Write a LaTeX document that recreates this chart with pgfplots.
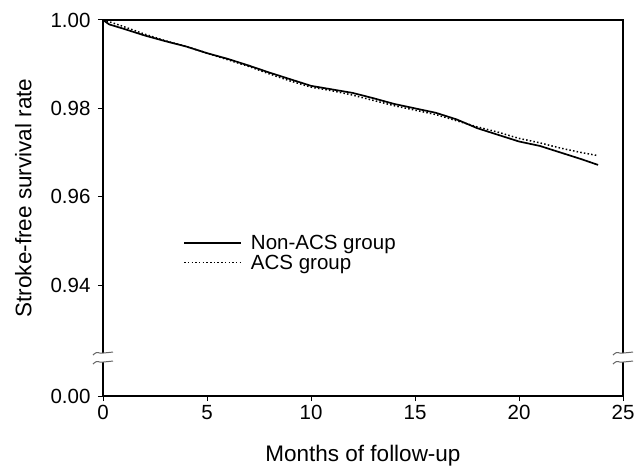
\documentclass[border=0pt]{standalone}
\usepackage{fontspec}
\setmainfont{Liberation Sans}
\usepackage{pgfplots}
\pgfplotsset{compat=1.18}
\begin{document}
\begin{tikzpicture}
\begin{axis}[
  scale only axis,
  width=520pt, height=376pt,
  xmin=0, xmax=25,
  ymin=0.9149, ymax=1.0,
  xtick={0,5,10,15,20,25},
  ytick={0.9149,0.94,0.96,0.98,1.00},
  yticklabels={0.00,0.94,0.96,0.98,1.00},
  /pgf/number format/assume math mode=true,
  tick align=outside,
  tick pos=left,
  major tick length=5pt,
  axis line style={line width=1.4pt},
  every tick/.style={black, line width=1pt},
  tick label style={font=\fontsize{20.5}{24}\selectfont},
  xticklabel style={yshift=-1pt},
  yticklabel style={xshift=-4pt},
  label style={font=\fontsize{22.5}{26}\selectfont},
  xlabel={Months of follow-up},
  ylabel={Stroke-free survival rate},
  xlabel style={yshift=-18pt},
  ylabel style={yshift=12pt, xshift=10pt},
  clip=false,
  legend style={draw=none, fill=none, inner sep=0pt, at={(0.154,0.434)}, anchor=north west,
    font=\fontsize{20.5}{24}\selectfont, row sep=0pt,
    /tikz/every odd column/.append style={column sep=7pt}},
  legend cell align=left,
  legend image code/.code={\draw[#1] (0pt,0pt) -- (57pt,0pt);},
]
\addplot[black, line width=1.7pt] coordinates {
(0,1.000) (0.3,0.9990) (1,0.9980) (2,0.9965) (3,0.9952) (4,0.9940) (5,0.9925)
(6,0.9912) (7,0.9897) (8,0.9881) (9,0.9866) (10,0.9851) (11,0.9843) (12,0.9835)
(13,0.9823) (14,0.9810) (15,0.9800) (16,0.9790) (17,0.9775) (18,0.9755)
(19,0.9740) (20,0.9725) (21,0.9715) (22,0.9700) (23,0.9685) (23.8,0.9672)
};
\addlegendentry{Non-ACS group}
\addplot[black, line width=1.5pt, dash pattern=on 1.5pt off 2.2pt] coordinates {
(0,1.000) (0.5,0.9993) (1,0.9985) (2,0.9968) (3,0.9953) (4,0.9940) (5,0.9925)
(6,0.9910) (7,0.9895) (8,0.9878) (9,0.9862) (10,0.9848) (11,0.9840) (12,0.9830)
(13,0.9818) (14,0.9806) (15,0.9796) (16,0.9786) (17,0.9772) (18,0.9758)
(19,0.9746) (20,0.9732) (21,0.9722) (22,0.9710) (23,0.9700) (23.8,0.9693)
};
\addlegendentry{ACS group}
\coordinate (ll) at (rel axis cs:0,0);
\coordinate (ur) at (rel axis cs:1,1);
% axis break marks
\fill[white] ([xshift=-1.5pt,yshift=-4.5pt]axis cs:0,0.9236) rectangle ([xshift=1.5pt,yshift=4.5pt]axis cs:0,0.9236);
\draw[black!60, line width=1pt] ([xshift=-10pt,yshift=2.5pt]axis cs:0,0.9236) .. controls +(5pt,5pt) and +(-5pt,-1pt) .. ([xshift=0pt,yshift=4.5pt]axis cs:0,0.9236) .. controls +(5pt,1pt) and +(-5pt,-1pt) .. ([xshift=10pt,yshift=5.5pt]axis cs:0,0.9236);
\draw[black!60, line width=1pt] ([xshift=-10pt,yshift=-6.5pt]axis cs:0,0.9236) .. controls +(5pt,5pt) and +(-5pt,-1pt) .. ([xshift=0pt,yshift=-4.5pt]axis cs:0,0.9236) .. controls +(5pt,1pt) and +(-5pt,-1pt) .. ([xshift=10pt,yshift=-3.5pt]axis cs:0,0.9236);
\fill[white] ([xshift=-1.5pt,yshift=-4.5pt]axis cs:25,0.9236) rectangle ([xshift=1.5pt,yshift=4.5pt]axis cs:25,0.9236);
\draw[black!60, line width=1pt] ([xshift=-10pt,yshift=2.5pt]axis cs:25,0.9236) .. controls +(5pt,5pt) and +(-5pt,-1pt) .. ([xshift=0pt,yshift=4.5pt]axis cs:25,0.9236) .. controls +(5pt,1pt) and +(-5pt,-1pt) .. ([xshift=10pt,yshift=5.5pt]axis cs:25,0.9236);
\draw[black!60, line width=1pt] ([xshift=-10pt,yshift=-6.5pt]axis cs:25,0.9236) .. controls +(5pt,5pt) and +(-5pt,-1pt) .. ([xshift=0pt,yshift=-4.5pt]axis cs:25,0.9236) .. controls +(5pt,1pt) and +(-5pt,-1pt) .. ([xshift=10pt,yshift=-3.5pt]axis cs:25,0.9236);
\end{axis}
\pgfresetboundingbox
\path[use as bounding box] ([xshift=-103pt,yshift=-77pt]ll) rectangle ([xshift=12pt,yshift=20pt]ur);
\end{tikzpicture}
\end{document}
